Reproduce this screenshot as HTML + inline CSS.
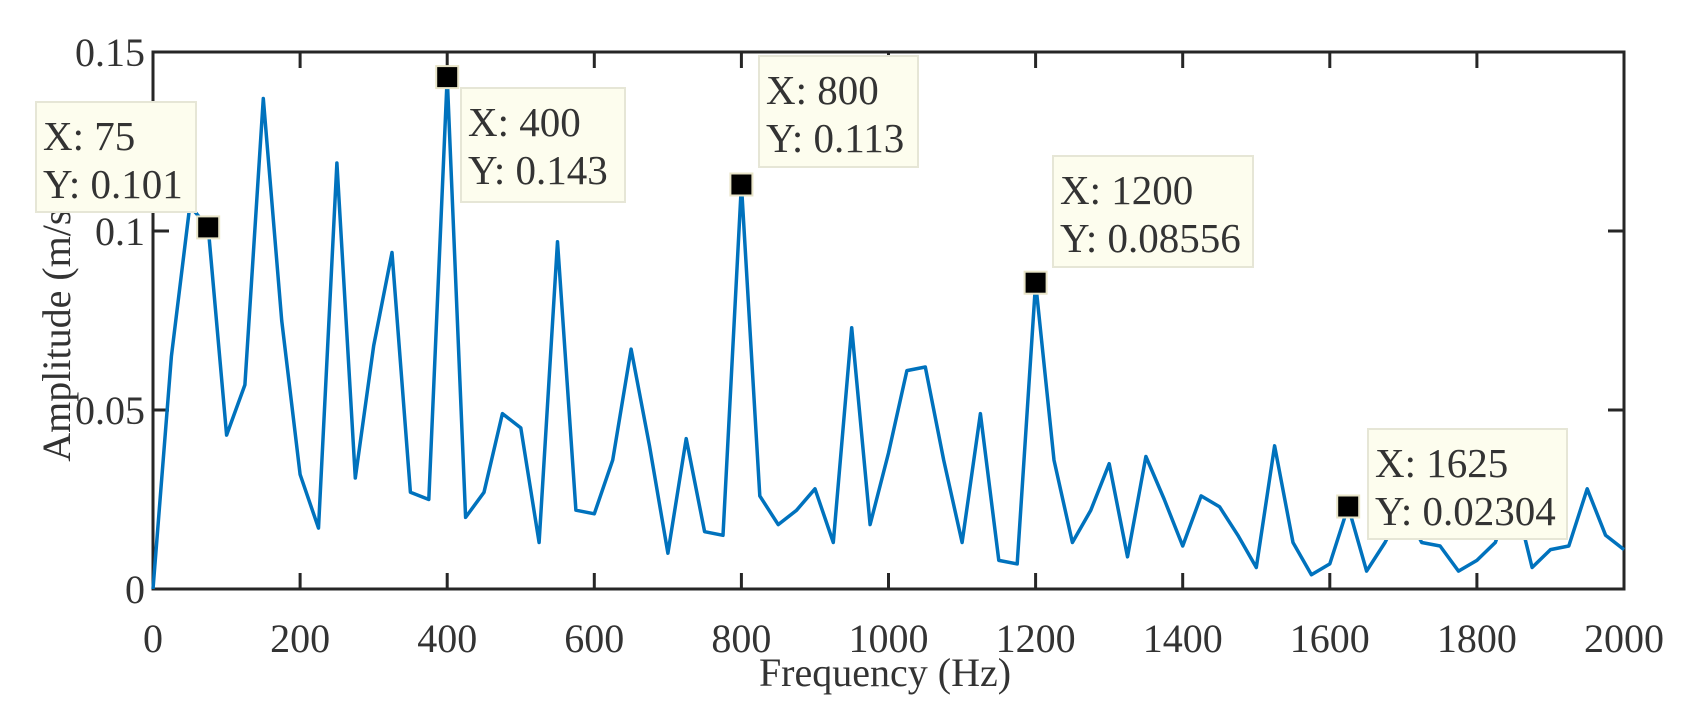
<!DOCTYPE html>
<html><head><meta charset="utf-8"><style>html,body{margin:0;padding:0;background:#fff}svg{display:block}text{font-family:"Liberation Serif",serif;fill:#333}</style></head><body>
<svg width="1688" height="713" viewBox="0 0 1688 713" xmlns="http://www.w3.org/2000/svg">
<rect x="153" y="52" width="1471" height="537" fill="none" stroke="#262626" stroke-width="3"/>
<g stroke="#262626" stroke-width="3">
<line x1="300.1" y1="589" x2="300.1" y2="573"/><line x1="300.1" y1="52" x2="300.1" y2="68"/>
<line x1="447.2" y1="589" x2="447.2" y2="573"/><line x1="447.2" y1="52" x2="447.2" y2="68"/>
<line x1="594.3" y1="589" x2="594.3" y2="573"/><line x1="594.3" y1="52" x2="594.3" y2="68"/>
<line x1="741.4" y1="589" x2="741.4" y2="573"/><line x1="741.4" y1="52" x2="741.4" y2="68"/>
<line x1="888.5" y1="589" x2="888.5" y2="573"/><line x1="888.5" y1="52" x2="888.5" y2="68"/>
<line x1="1035.6" y1="589" x2="1035.6" y2="573"/><line x1="1035.6" y1="52" x2="1035.6" y2="68"/>
<line x1="1182.7" y1="589" x2="1182.7" y2="573"/><line x1="1182.7" y1="52" x2="1182.7" y2="68"/>
<line x1="1329.8" y1="589" x2="1329.8" y2="573"/><line x1="1329.8" y1="52" x2="1329.8" y2="68"/>
<line x1="1476.9" y1="589" x2="1476.9" y2="573"/><line x1="1476.9" y1="52" x2="1476.9" y2="68"/>
<line x1="153" y1="410" x2="169" y2="410"/><line x1="1624" y1="410" x2="1608" y2="410"/>
<line x1="153" y1="231" x2="169" y2="231"/><line x1="1624" y1="231" x2="1608" y2="231"/>
</g>
<g font-size="40" text-anchor="middle">
<text x="153" y="652">0</text><text x="300.1" y="652">200</text><text x="447.2" y="652">400</text><text x="594.3" y="652">600</text><text x="741.4" y="652">800</text><text x="888.5" y="652">1000</text><text x="1035.6" y="652">1200</text><text x="1182.7" y="652">1400</text><text x="1329.8" y="652">1600</text><text x="1476.9" y="652">1800</text><text x="1624" y="652">2000</text>
</g>
<g font-size="40" text-anchor="end">
<text x="145" y="603">0</text><text x="145" y="424">0.05</text><text x="145" y="245">0.1</text><text x="145" y="66">0.15</text>
</g>
<text x="885" y="686" font-size="40" text-anchor="middle">Frequency (Hz)</text>
<text transform="translate(70,323) rotate(-90)" font-size="40" text-anchor="middle">Amplitude (m/s²)</text>
<polyline fill="none" stroke="#0072BD" stroke-width="3.5" stroke-linejoin="round" points="153,589 171.4,356.3 189.8,205.9 208.2,227.4 226.6,435.1 244.9,384.9 263.3,98.5 281.7,320.5 300.1,474.4 318.5,528.1 336.9,163 355.3,478 373.7,345.6 392,252.5 410.4,492.3 428.8,499.5 447.2,77.1 465.6,517.4 484,492.3 502.4,413.6 520.8,427.9 539.1,542.5 557.5,241.7 575.9,510.2 594.3,513.8 612.7,460.1 631.1,349.1 649.5,445.8 667.9,553.2 686.2,438.6 704.6,531.7 723,535.3 741.4,184.5 759.8,495.9 778.2,524.6 796.6,510.2 815,488.8 833.3,542.5 851.7,327.7 870.1,524.6 888.5,453 906.9,370.6 925.3,367 943.7,460.1 962.1,542.5 980.4,413.6 998.8,560.4 1017.2,563.9 1035.6,282.7 1054,460.1 1072.4,542.5 1090.8,510.2 1109.2,463.7 1127.5,556.8 1145.9,456.5 1164.3,499.5 1182.7,546 1201.1,495.9 1219.5,506.7 1237.9,535.3 1256.3,567.5 1274.6,445.8 1293,542.5 1311.4,574.7 1329.8,563.9 1348.2,506.5 1366.6,571.1 1385,542.5 1403.4,506.7 1421.7,542.5 1440.1,546 1458.5,571.1 1476.9,560.4 1495.3,542.5 1513.7,492.3 1532.1,567.5 1550.5,549.6 1568.8,546 1587.2,488.8 1605.6,535.3 1624,549.6"/>
<g fill="#000" stroke="#e8e4c8" stroke-width="2">
<rect x="197.2" y="216.4" width="22" height="22"/>
<rect x="436.2" y="66.1" width="22" height="22"/>
<rect x="730.4" y="173.5" width="22" height="22"/>
<rect x="1024.6" y="271.7" width="22" height="22"/>
<rect x="1337.2" y="495.5" width="22" height="22"/>
</g>
<g fill="#fdfdee" stroke="#e6e6d6" stroke-width="2">
<rect x="36" y="102" width="160" height="110"/>
<rect x="461" y="88" width="164" height="114"/>
<rect x="759" y="56" width="159" height="111"/>
<rect x="1053" y="156" width="200" height="111"/>
<rect x="1368" y="429" width="199" height="110"/>
</g>
<g font-size="41" style="fill:#111">
<text x="43" y="150">X: 75</text><text x="43" y="198">Y: 0.101</text>
<text x="468" y="136">X: 400</text><text x="468" y="184">Y: 0.143</text>
<text x="766" y="104">X: 800</text><text x="766" y="152">Y: 0.113</text>
<text x="1060" y="204">X: 1200</text><text x="1060" y="252">Y: 0.08556</text>
<text x="1375" y="477">X: 1625</text><text x="1375" y="525">Y: 0.02304</text>
</g>
</svg>
</body></html>
